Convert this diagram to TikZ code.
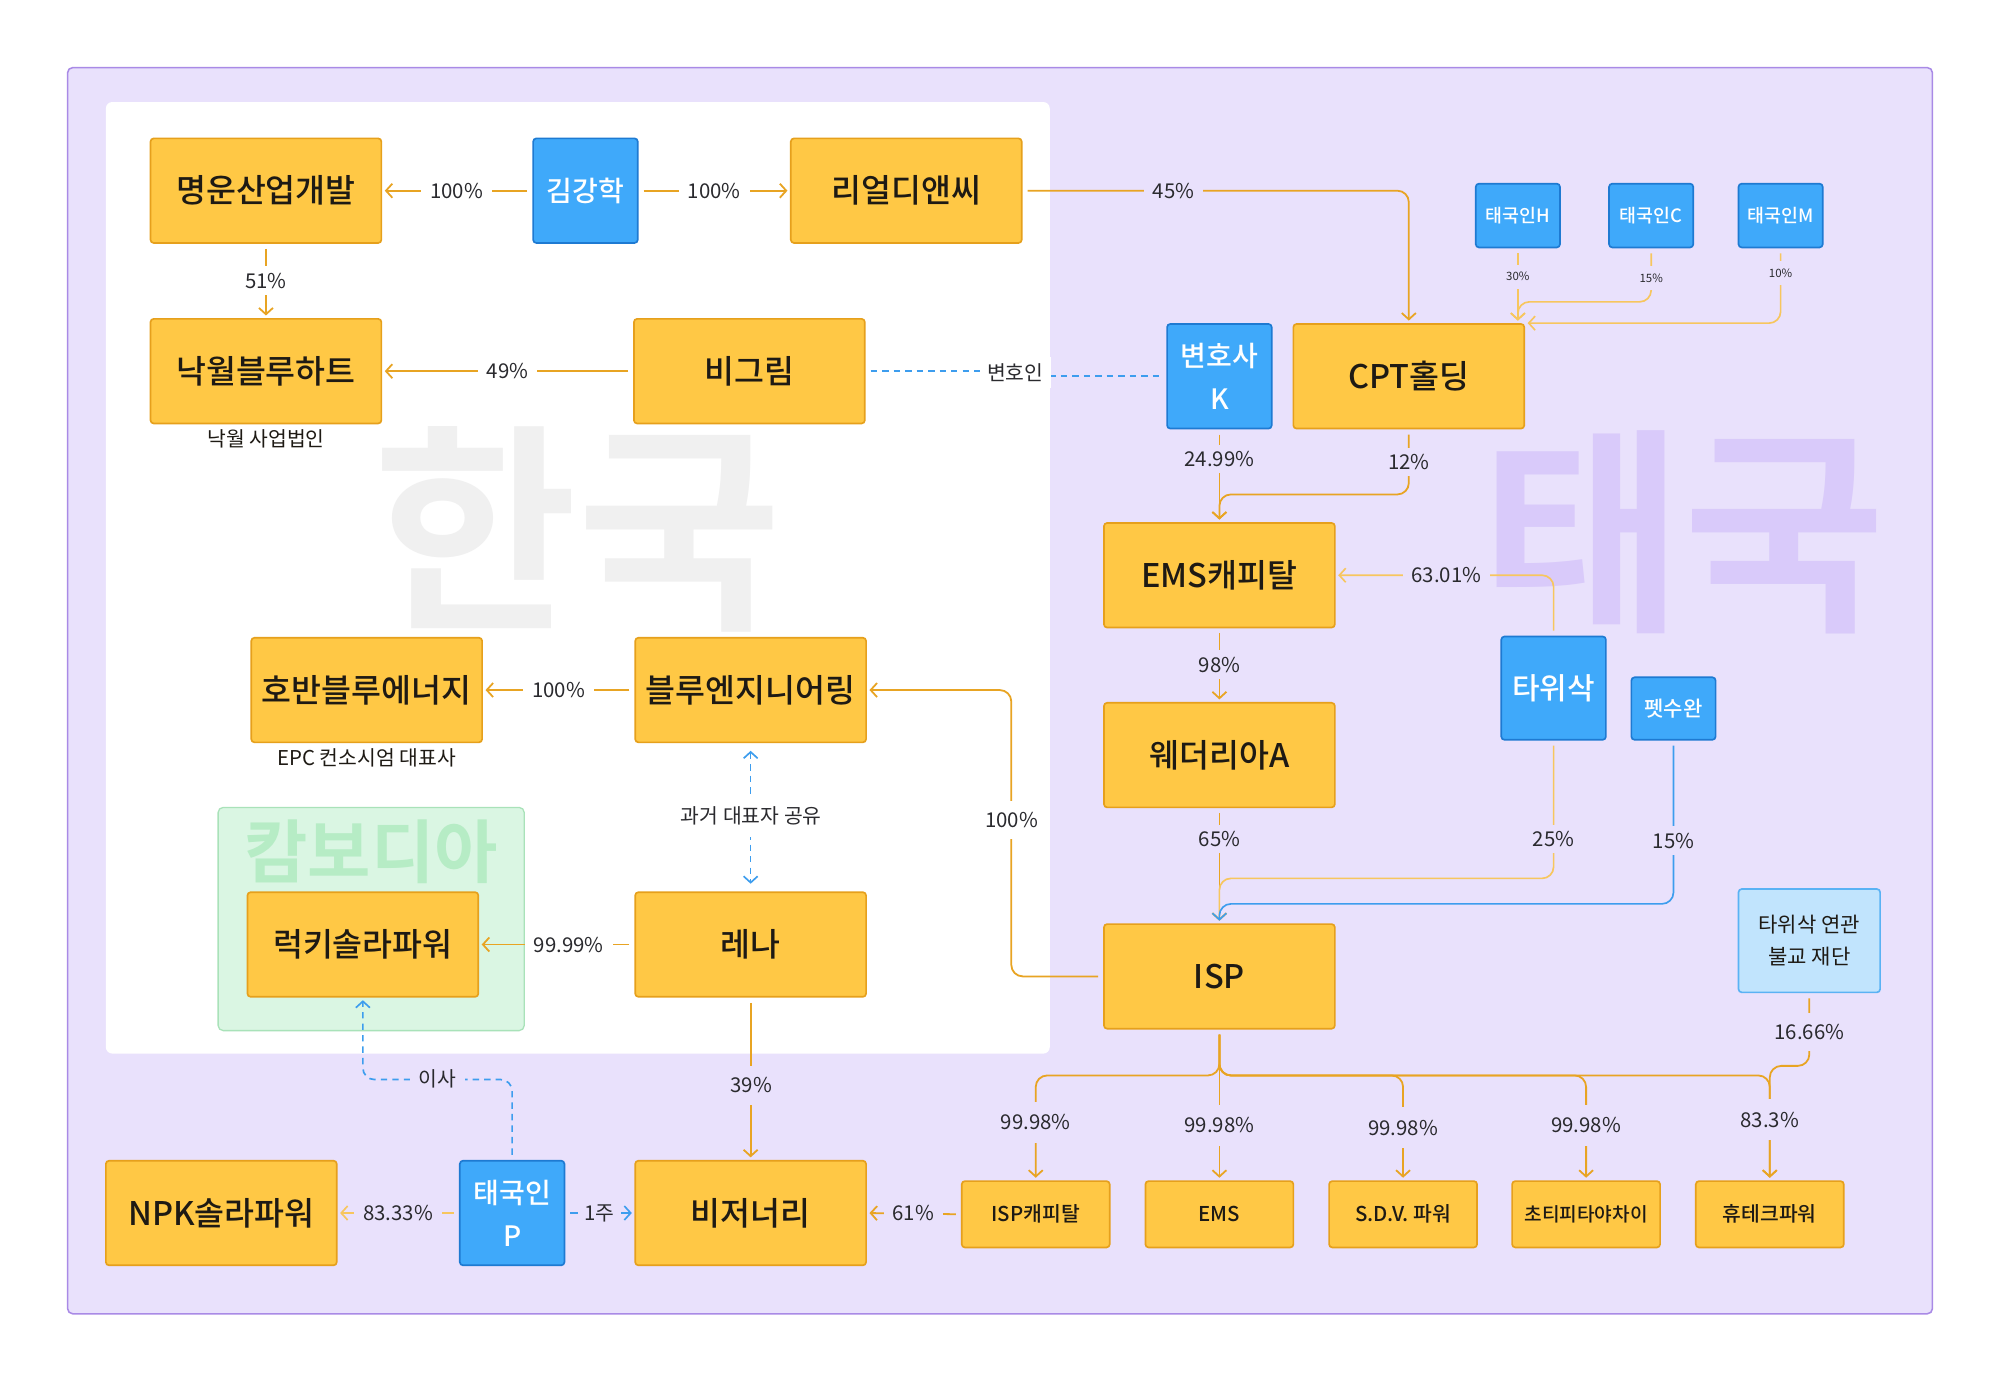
\documentclass[tikz,border=0pt]{standalone}
\usepackage{fontspec}
\setmainfont{Noto Sans CJK KR}
\newfontfamily\krm{Noto Sans CJK KR Medium}
\newfontfamily\krb{Noto Sans CJK KR Bold}
\usetikzlibrary{arrows.meta,calc}
\definecolor{pbg}{HTML}{E9E1FC}
\definecolor{pborder}{HTML}{A98AE6}
\definecolor{ofill}{HTML}{FFC845}
\definecolor{oborder}{HTML}{E6A01C}
\definecolor{oline}{HTML}{E8A423}
\definecolor{lline}{HTML}{F7C65E}
\definecolor{bfill}{HTML}{3FA9FA}
\definecolor{bborder}{HTML}{1E7AD2}
\definecolor{bline}{HTML}{3D9DEE}
\definecolor{lbfill}{HTML}{C1E4FD}
\definecolor{lbborder}{HTML}{5AB2F4}
\definecolor{gfill}{HTML}{DAF6E3}
\definecolor{gborder}{HTML}{A9E2B9}
\definecolor{gtext}{HTML}{B6ECC5}
\definecolor{wmgray}{HTML}{F0F0F0}
\definecolor{wmpurple}{HTML}{D9CAFA}
\definecolor{boxtxt}{HTML}{1E1A14}
\definecolor{labtxt}{HTML}{2A2A2E}
\tikzset{
  obox/.style={draw=oborder, fill=ofill, line width=1.3pt, rounded corners=2.5pt,
    minimum width=181pt, minimum height=82pt, inner sep=0pt, text=boxtxt,
    font=\krm\fontsize{25.5}{29}\selectfont},
  sbox/.style={obox, minimum width=116pt, minimum height=52pt, font=\krm\fontsize{16}{19}\selectfont},
  bbox/.style={draw=bborder, fill=bfill, line width=1.3pt, rounded corners=2.5pt,
    minimum width=82pt, minimum height=82pt, inner sep=0pt, text=white, align=center,
    font=\krm\fontsize{22}{34}\selectfont},
  tbox/.style={bbox, minimum width=66pt, minimum height=50pt, font=\krm\fontsize{14.4}{16}\selectfont},
  lbox/.style={draw=lbborder, fill=lbfill, line width=1.3pt, rounded corners=2.5pt,
    minimum width=111pt, minimum height=81pt, inner sep=0pt, text=boxtxt, align=center,
    font=\fontsize{16.5}{25}\selectfont},
  lab/.style={fill=pbg, inner xsep=7pt, inner ysep=5pt, text=labtxt, font=\fontsize{16}{18}\selectfont},
  wlab/.style={lab, fill=white},
  tlab/.style={lab, inner xsep=3pt, inner ysep=6pt, font=\fontsize{9}{10}\selectfont},
  captxt/.style={text=boxtxt, font=\fontsize{16}{19}\selectfont},
  ol/.style={draw=oline, line width=1.4pt, rounded corners=9pt, shorten <=4pt, shorten >=2pt},
  ll/.style={draw=lline, line width=1.3pt, rounded corners=9pt, shorten <=4pt, shorten >=2pt},
  bl/.style={draw=bline, line width=1.3pt, rounded corners=9pt, shorten <=4pt, shorten >=2pt},
  bd/.style={bl, dash pattern=on 5pt off 4pt},
  tip/.style={-{Straight Barb[length=5pt,width=11pt]}},
  tips/.style={{Straight Barb[length=5pt,width=11pt]}-{Straight Barb[length=5pt,width=11pt]}},
}
\begin{document}
\begin{tikzpicture}[x=1pt,y=-1pt]
\useasboundingbox (0,0) rectangle (1568,1083);
\fill[white] (0,0) rectangle (1568,1083);
% regions
\draw[draw=pborder, fill=pbg, line width=1.2pt, rounded corners=4pt] (53,53) rectangle (1515,1030);
\fill[white, rounded corners=5pt] (83,80) rectangle (823,826);
\node[font=\krb\fontsize{174}{174}\selectfont, text=wmgray, inner sep=0pt] (wmk) at (453,415) {한국};
\node[font=\krb\fontsize{172}{172}\selectfont, text=wmpurple, inner sep=0pt] (wmt) at (1320,417) {태국};
\draw[fill=gfill, draw=gborder, line width=1pt, rounded corners=4pt] (171,633) rectangle (411,808);
\node[font=\krb\fontsize{54}{54}\selectfont, text=gtext, inner sep=0pt] (wmc) at (291,668) {캄보디아};

% nodes
\node[obox] (myung) at (208.5,149.5) {명운산업개발};
\node[bbox] (kim) at (459,149.5) {김강학};
\node[obox] (real) at (710.5,149.5) {리얼디앤씨};
\node[obox] (nak) at (208.5,291) {낙월블루하트};
\node[obox] (bigrim) at (587.5,291) {비그림};
\node[bbox] (lawk) at (956,295) {변호사\\K};
\node[obox] (cpt) at (1104.5,295) {CPT홀딩};
\node[tbox] (tH) at (1190,169) {태국인H};
\node[tbox] (tC) at (1294.5,169) {태국인C};
\node[tbox] (tM) at (1396,169) {태국인M};
\node[obox] (emsc) at (956,451) {EMS캐피탈};
\node[obox] (wed) at (956,592) {웨더리아A};
\node[bbox, minimum height=81pt, font=\krm\fontsize{23.5}{27}\selectfont] (taw) at (1218,539.5) {타위삭};
\node[bbox, minimum width=66pt, minimum height=49pt, font=\krm\fontsize{16.5}{19}\selectfont] (pet) at (1312,555.5) {펫수완};
\node[obox] (hoban) at (287.5,541) {호반블루에너지};
\node[obox] (beng) at (588.5,541) {블루엔지니어링};
\node[obox] (lucky) at (284.5,740.5) {럭키솔라파워};
\node[obox] (lena) at (588.5,740.5) {레나};
\node[obox] (isp) at (956,765.5) {ISP};
\node[lbox] (fnd) at (1418.5,737.5) {타위삭 연관\\불교 재단};
\node[obox] (npk) at (173.5,951) {NPK솔라파워};
\node[bbox] (tp) at (401.5,951) {태국인\\P};
\node[obox] (vis) at (588.5,951) {비저너리};
\node[sbox] (ispc) at (812,952) {ISP캐피탈};
\node[sbox] (ems) at (956,952) {EMS};
\node[sbox] (sdv) at (1100,952) {S.D.V. 파워};
\node[sbox, font=\krm\fontsize{15}{18}\selectfont] (choti) at (1243.5,952) {초티피타야차이};
\node[sbox] (hut) at (1387.5,952) {휴테크파워};

% captions
\node[captxt] (c1) at (208.5,344) {낙월 사업법인};
\node[captxt] (c2) at (287.5,594) {EPC 컨소시엄 대표사};

% connectors
\draw[ol,tip] (kim.west) -- (myung.east);
\draw[ol,tip] (kim.east) -- (real.west);
\draw[ol,tip] (myung.south) -- (nak.north);
\draw[ol,tip] (bigrim.west) -- (nak.east);
\draw[bd, rounded corners=0pt] (bigrim.east) -- (796,291) -- (796,295) -- (lawk.west);
\draw[ol,tip] (real.east) -| (cpt.north);
\draw[ll,tip] (tH.south) -- (tH.south |- cpt.north);
\draw[ll,tip] (tC.south) -- ++(0,42) -| (tH.south |- cpt.north);
\draw[ll,tip] (tM.south) |- (cpt.north east);
\draw[ol,tip] (lawk.south) -- (emsc.north);
\draw[ol,tip] (cpt.south) -- ++(0,51) -| (emsc.north);
\draw[ll,tip] (taw.north) |- (emsc.east);
\draw[ol,tip] (emsc.south) -- (wed.north);
\draw[ol,tip] (wed.south) -- (isp.north);
\draw[ll,tip] (taw.south) -- ++(0,108) -| (isp.north);
\draw[bl,tip] (pet.south) -- ++(0,128) -| (isp.north);
\draw[ol,tip] (isp.west) -- ++(-72,0) |- (beng.east);
\draw[ol,tip] (beng.west) -- (hoban.east);
\draw[bd,tips, shorten <=6pt, shorten >=6pt] (beng.south) -- (lena.north);
\draw[ol,tip] (lena.west) -- (lucky.east);
\draw[ol,tip] (lena.south) -- (vis.north);
\draw[bd,tip] (tp.north) -- ++(0,-63) -| (lucky.south);
\draw[ll,tip] (tp.west) -- (npk.east);
\draw[bl,tip] (tp.east) -- (vis.west);
\draw[ol,tip] (ispc.west) -- (vis.east);
\foreach \c in {ispc,ems,sdv,choti,hut}{
  \draw[ol,tip] (isp.south) -- ++(0,36) -| (\c.north);
}
\draw[ol,tip] (fnd.south) -- ++(0,57) -| (hut.north);

% labels
\node[wlab] (l1) at (358,150) {100\%};
\node[wlab] (l2) at (560,150) {100\%};
\node[lab] (l3) at (920,150) {45\%};
\node[wlab] (l4) at (208.5,220) {51\%};
\node[wlab] (l5) at (398,291) {49\%};
\node[wlab, inner xsep=6pt] (l6) at (796,292) {변호인};
\node[tlab] (l7) at (1190,217) {30\%};
\node[tlab] (l8) at (1294.5,218) {15\%};
\node[tlab] (l9) at (1396,214) {10\%};
\node[lab] (l10) at (956,360) {24.99\%};
\node[lab] (l11) at (1104.5,362) {12\%};
\node[lab] (l12) at (1134,451) {63.01\%};
\node[lab] (l13) at (956,521) {98\%};
\node[lab] (l14) at (956,658) {65\%};
\node[lab] (l15) at (1218,658) {25\%};
\node[lab] (l16) at (1312,659) {15\%};
\node[wlab] (l17) at (438,541) {100\%};
\node[wlab, inner ysep=9pt] (l18) at (793,643) {100\%};
\node[wlab, inner ysep=9pt] (l19) at (589,640) {과거 대표자 공유};
\node[wlab] (l20) at (446,741) {99.99\%};
\node[lab, inner ysep=9pt] (l21) at (589,851) {39\%};
\node[lab] (l22) at (343,846) {이사};
\node[lab] (l23) at (312,951) {83.33\%};
\node[lab, inner xsep=5pt] (l24) at (470,951) {1주};
\node[lab] (l25) at (716,951) {61\%};
\node[lab, inner ysep=9pt] (l26) at (1418.5,809) {16.66\%};
\node[lab, inner ysep=10pt] (l27) at (812,880) {99.98\%};
\node[lab, inner ysep=10pt] (l28) at (956,882) {99.98\%};
\node[lab, inner ysep=10pt] (l29) at (1100,884) {99.98\%};
\node[lab, inner ysep=10pt] (l30) at (1243.5,882) {99.98\%};
\node[lab, inner ysep=10pt] (l31) at (1387.5,878) {83.3\%};
\end{tikzpicture}
\end{document}
